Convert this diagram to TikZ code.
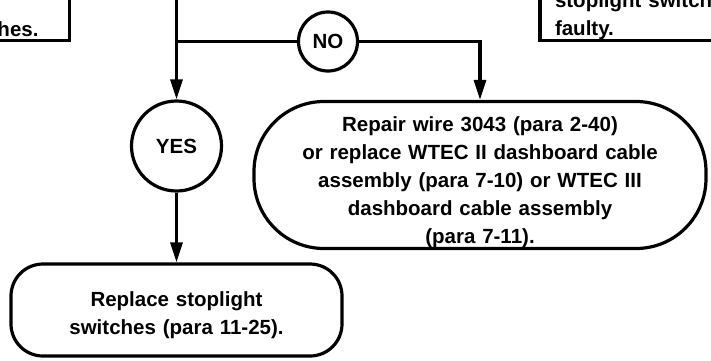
\documentclass[tikz,border=0pt]{standalone}
\usepackage{fontspec}
\setmainfont{Liberation Sans}
\usepackage{tikz}
\usetikzlibrary{positioning, arrows.meta}
\definecolor{ink}{HTML}{000000}
\newcommand{\chartfont}{\fontsize{20.5}{28}\selectfont\bfseries}

\begin{document}
\begin{tikzpicture}[x=1pt, y=-1pt,
  every node/.style={font=\chartfont, align=center, text=ink},
  line/.style={draw=ink, line width=3.2pt},
  flow/.style={line, -{Triangle[length=20pt, width=12pt]}},
  answer/.style={line, circle, inner sep=0pt},
  endbox/.style={line, rounded corners=#1, inner sep=0pt},
  cutbox/.style={line, rectangle, outer sep=0pt, text height=80pt}]
\useasboundingbox (0,0) rectangle (711,360);
\clip (0,0) rectangle (711,360);

% boxes cut off by the page edge
\node[cutbox, anchor=south east, text width=130pt, align=right, text depth=0pt,
      inner xsep=31pt, inner ysep=4.5pt] (tl) at (69.5,40.5) {switches.};
\node[cutbox, anchor=south west, text width=200pt, align=left, text depth=28pt,
      inner xsep=15pt, inner ysep=5pt] (tr) at (540,40.5) {stoplight switches\\faulty.};

% decisions
\node[answer, minimum size=59pt] (no) at (328,41.5) {NO};
\node[answer, minimum size=90pt] (yes) at (176.5,146) {YES};

% actions
\node[endbox=70pt, minimum width=452pt, minimum height=147pt,
      text width=420pt, text height=29pt] (repair) at (480,175)
  {Repair wire 3043 (para 2-40)\\or replace WTEC II dashboard cable\\assembly (para 7-10) or WTEC III\\dashboard cable assembly\\(para 7-11).};
\node[endbox=32pt, minimum width=331pt, minimum height=92pt,
      text width=300pt, text height=25pt] (replace) at (176.5,310)
  {Replace stoplight\\switches (para 11-25).};

\coordinate (entry) at (176.5,0);
\coordinate (split) at (176.5,41.5);
\draw[flow] (entry) -- (yes);
\draw[line] (split) -- (no);
\draw[flow] (no) -| (repair);
\draw[flow] (yes) -- (replace);
\end{tikzpicture}
\end{document}
